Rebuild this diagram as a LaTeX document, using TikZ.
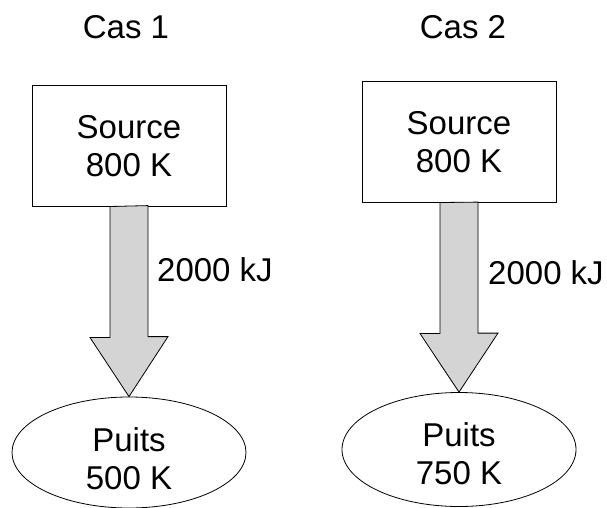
\documentclass[tikz,border=0pt]{standalone}
\usepackage{fontspec}
\setmainfont{Liberation Sans}
\usetikzlibrary{shapes.geometric}
\begin{document}
\begin{tikzpicture}[x=1pt,y=-1pt,
  lbl/.style={font=\fontsize{33}{38}\selectfont, align=center, inner sep=0pt},
  srcbox/.style={lbl, draw, line width=1pt, minimum width=194pt, minimum height=120pt},
  sinkell/.style={draw, ellipse, line width=0.8pt, minimum width=234pt, minimum height=111pt, inner sep=0pt},
  heatarrow/.style={draw, line width=0.8pt, fill=black!17, line join=miter}]
\useasboundingbox (0,0) rectangle (607,508);
% Case 1
\node[lbl] (cas1) at (126,27) {Cas 1};
\node[srcbox] (src1) at (129,146) {Source\\800 K};
\node[sinkell] (sink1) at (129,452.5) {};
\node[lbl] (sink1t) at (129,458.5) {Puits\\500 K};
\draw[heatarrow] (src1.south) ++(-19,0) -- ++(0,131) -- ++(-20,0) -- (sink1.north) -- ++(39,-60) -- ++(-20,0) -- ++(0,-131) -- cycle;
\node[lbl, anchor=west] (q1) at (157,270) {2000 kJ};
% Case 2
\node[lbl] (cas2) at (463,27) {Cas 2};
\node[srcbox] (src2) at (459,142) {Source\\800 K};
\node[sinkell, minimum height=114pt] (sink2) at (459,449.5) {};
\node[lbl] (sink2t) at (459,453.5) {Puits\\750 K};
\draw[heatarrow] (src2.south) ++(-19,0) -- ++(0,131) -- ++(-20,0) -- (sink2.north) -- ++(39,-59) -- ++(-20,0) -- ++(0,-131) -- cycle;
\node[lbl, anchor=west] (q2) at (488,273) {2000 kJ};
\end{tikzpicture}
\end{document}
